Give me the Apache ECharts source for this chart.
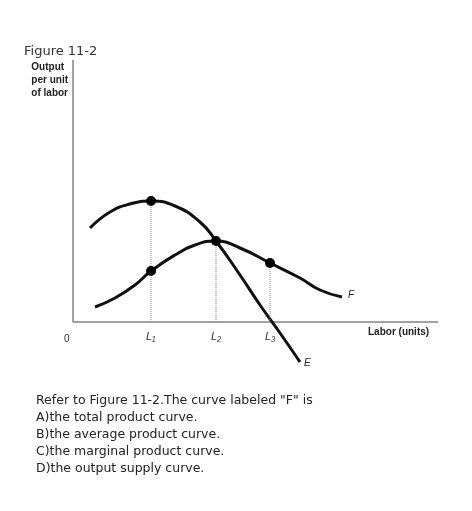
<!DOCTYPE html><html><head><meta charset="utf-8"><script src="https://cdn.jsdelivr.net/npm/echarts@6/dist/echarts.min.js"></script>
<style>body{margin:0;background:#fff}#c{width:472px;height:511px}</style></head><body><div id="c"></div><script>
const curveE=[[17,94],[37,110],[57,118],[78,121],[102,116],[127,100],[143,81],[167,47],[187,17],[207,-11],[227,-40]];
const curveF=[[22,15],[42,24],[62,37],[78,51],[102,67],[122,77],[143,81],[167,74],[197,59],[227,44],[247,32],[269,25]];
const dots=[[78,121],[78,51],[143,81],[197,59]];
const guides=[[78,121],[143,81],[197,59]];
const tickLabels=[{x:78,t:'L₁'},{x:143,t:'L₂'},{x:197,t:'L₃'}];
const question=['Refer to Figure 11-2.The curve labeled "F" is','A)the total product curve.','B)the average product curve.','C)the marginal product curve.','D)the output supply curve.'];
const chart=echarts.init(document.getElementById('c'));
const series=[
 {type:'line',data:[[0,0],[365,0]],symbol:'none',lineStyle:{color:'#444',width:1},silent:true},
 {type:'line',data:[[0,0],[0,262]],symbol:'none',lineStyle:{color:'#444',width:1},silent:true},
 {type:'line',data:curveE,smooth:true,symbol:'none',lineStyle:{color:'#111',width:3}},
 {type:'line',data:curveF,smooth:true,symbol:'none',lineStyle:{color:'#111',width:3}},
 {type:'scatter',data:dots,symbolSize:10,itemStyle:{color:'#000',opacity:1},z:5}
];
guides.forEach(g=>series.push({type:'line',data:[[g[0],0],g],symbol:'none',lineStyle:{color:'#888',width:1,type:'dotted'}}));
const xl=v=>chart.convertToPixel({gridIndex:0},[v,0])[0];
chart.setOption({animation:false,
 grid:{left:73,top:60,width:365,height:322},
 xAxis:{type:'value',min:0,max:365,show:false},
 yAxis:{type:'value',min:-60,max:262,show:false},
 series});
const g=[
 {type:'text',left:24,top:45,style:{text:'Figure 11-2',font:'13px "DejaVu Sans"',fill:'#333'}},
 {type:'text',right:404,top:61,style:{text:'Output\nper unit\nof labor',font:'bold 10px "Liberation Sans"',fill:'#222',align:'right',lineHeight:13}},
 {type:'text',left:64,top:334,style:{text:'0',font:'10px "Liberation Sans"',fill:'#333'}},
 {type:'text',left:368,top:327,style:{text:'Labor (units)',font:'bold 10px "Liberation Sans"',fill:'#222'}},
 {type:'text',left:348,top:290,style:{text:'F',font:'italic 10px "Liberation Sans"',fill:'#222'}},
 {type:'text',left:304,top:358,style:{text:'E',font:'italic 10px "Liberation Sans"',fill:'#222'}}
];
tickLabels.forEach(t=>g.push({type:'text',left:xl(t.x)-5,top:331,style:{text:t.t,font:'italic 11px "Liberation Sans"',fill:'#333'}}));
question.forEach((q,i)=>g.push({type:'text',left:36,top:394+i*17,style:{text:q,font:'12.5px "DejaVu Sans"',fill:'#222'}}));
chart.setOption({graphic:g});
</script></body></html>
